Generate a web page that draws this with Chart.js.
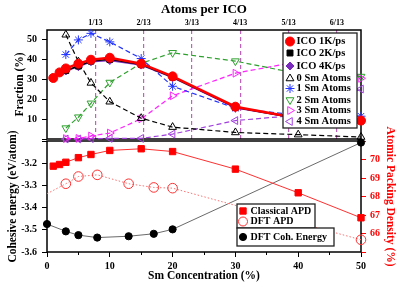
<!DOCTYPE html>
<html>
<head>
<meta charset="utf-8">
<script src="https://cdn.jsdelivr.net/npm/chart.js@4.4.1/dist/chart.umd.min.js"></script>
<style>
  html, body { margin: 0; padding: 0; background: #fff; }
  #wrap { position: relative; width: 402px; height: 284px; }
  #wrap canvas { position: absolute; left: 0; top: 0; }
</style>
</head>
<body>
<div id="wrap">
  <canvas id="bottomChart" width="402" height="284"></canvas>
  <canvas id="topChart" width="402" height="150"></canvas>
</div>
<script>
// ---- top panel: fraction of icosahedra (%) vs Sm concentration (%)
const icoConc = [1, 2, 3, 5, 7, 10, 15, 20, 30, 40, 50];
const ico1K = [30.8, 33.6, 35.6, 38.0, 40.0, 41.0, 38.0, 31.6, 16.3, 10.5, 9.3];
const fastConc = [3, 5, 7, 10, 15, 20, 30, 40, 50];
const ico2K = [34.6, 36.8, 39.3, 40.2, 37.6, 31.2, 16.0, 10.3, 9.1];
const ico4K = [34.3, 36.5, 39.0, 39.6, 37.3, 31.0, 15.8, 10.4, 9.4];

const smConc = [3, 5, 7, 10, 15, 20, 30, 40, 50];
const sm0 = [52.6, 39.0, 28.3, 18.8, 10.5, 6.0, 3.3, 2.2, 1.0];
const sm1 = [42.6, 50.0, 53.3, 49.0, 40.6, 26.6, 15.6, 12.0, 11.5];
const sm2 = [5.5, 11.0, 18.0, 28.5, 38.2, 43.5, 39.3, 33.0, 31.5];
const sm3 = [0.2, 0.3, 1.5, 3.0, 10.2, 21.8, 33.2, 39.0, 30.6];
const sm4 = [0, 0, 0.2, 0.3, 0.3, 2.5, 9.3, 12.0, 25.2];

const atomsPerIco = [1, 2, 3, 4, 5, 6]; // top axis, k/13

// ---- bottom panel: energies and packing density
const apdConc = [1, 2, 3, 5, 7, 10, 15, 20, 30, 40, 50];
const classicalApd = [69.64, 69.73, 69.85, 70.1, 70.27, 70.49, 70.58, 70.43, 69.48, 68.2, 66.85];
const dftConc = [0, 3, 5, 8, 13, 17, 20, 50];
const dftApd = [68.15, 68.69, 69.08, 69.17, 68.69, 68.49, 68.45, 65.66];
const dftCoh = [-3.474, -3.507, -3.524, -3.535, -3.529, -3.518, -3.498, -3.107];

const SERIF = "'Liberation Serif', 'DejaVu Serif', serif";
Chart.defaults.font.family = SERIF;
Chart.defaults.font.weight = 'bold';
Chart.defaults.color = '#000';

function pts(xs, ys) {
    return xs.map((x, i) => ({ x: x, y: ys[i] }));
}

function series(label, xs, ys, color, style, extra) {
    return Object.assign({
        label: label,
        data: pts(xs, ys),
        borderColor: color,
        pointBorderColor: color,
        pointBackgroundColor: color,
        pointStyle: style,
        pointRadius: 4.5,
        pointBorderWidth: 1,
        borderWidth: 1.2,
        tension: 0,
        clip: 8
    }, extra || {});
}

const HOLLOW = 'rgba(255,255,255,0)';
const DASH = [5, 3];

// black frame round the plot area
const plotFrame = {
    id: 'plotFrame',
    beforeDatasetsDraw(chart) {
        const { ctx, chartArea: a } = chart;
        ctx.save();
        ctx.lineWidth = 1.5;
        ctx.strokeStyle = '#000';
        ctx.strokeRect(a.left, a.top, a.right - a.left, a.bottom - a.top);
        ctx.restore();
    }
};

// legend boxes drawn inside the plot
const boxLegend = {
    id: 'boxLegend',
    afterDatasetsDraw(chart, args, opts) {
        const ctx = chart.ctx;
        ctx.save();
        opts.boxes.forEach(b => {
            ctx.fillStyle = '#fff';
            ctx.fillRect(b.x, b.y, b.w, b.h);
            ctx.lineWidth = 1.3;
            ctx.strokeStyle = '#222';
            ctx.strokeRect(b.x, b.y, b.w, b.h);
            b.rows.forEach((dsIndex, i) => {
                const ds = chart.data.datasets[dsIndex];
                const y = b.y + b.rowY[i];
                const r = typeof ds.pointRadius === 'number' ? ds.pointRadius : 4.5;
                ctx.fillStyle = ds.pointBackgroundColor;
                ctx.strokeStyle = ds.pointBorderColor;
                ctx.lineWidth = ds.pointBorderWidth;
                ctx.setLineDash([]);
                Chart.helpers.drawPoint(ctx, {
                    pointStyle: ds.pointStyle,
                    rotation: ds.pointRotation || 0,
                    radius: r,
                    borderWidth: ds.pointBorderWidth
                }, b.x + b.markX, y);
                ctx.fillStyle = '#000';
                ctx.font = 'bold ' + b.fontSize + 'px ' + SERIF;
                ctx.textAlign = 'left';
                ctx.textBaseline = 'middle';
                ctx.fillText(ds.label, b.x + b.textX, y);
            });
        });
        ctx.restore();
    }
};

// ---------------- top chart ----------------
new Chart(document.getElementById('topChart'), {
    type: 'line',
    data: {
        datasets: [
            series('ICO 1K/ps', icoConc, ico1K, '#ff0000', 'circle', { borderWidth: 2.5, pointRadius: 4.5 }),
            series('ICO 2K/ps', fastConc, ico2K, '#000000', 'rect', { borderWidth: 1.5, pointRadius: 4.2 }),
            series('ICO 4K/ps', fastConc, ico4K, '#7b2cbf', 'rectRot', { borderWidth: 1.5, pointRadius: 4 }),
            series('0 Sm Atoms', smConc, sm0, '#000000', 'triangle', { borderDash: DASH, pointBackgroundColor: HOLLOW }),
            series('1 Sm Atoms', smConc, sm1, '#2233ff', 'star', { borderDash: DASH }),
            series('2 Sm Atoms', smConc, sm2, '#2ea02e', 'triangle', { borderDash: DASH, pointRotation: 180, pointBackgroundColor: HOLLOW }),
            series('3 Sm Atoms', smConc, sm3, '#ff22ff', 'triangle', { borderDash: DASH, pointRotation: 90, pointBackgroundColor: HOLLOW }),
            series('4 Sm Atoms', smConc, sm4, '#a040dd', 'triangle', { borderDash: DASH, pointRotation: 270, pointBackgroundColor: HOLLOW })
        ]
    },
    options: {
        responsive: false,
        animation: false,
        layout: { padding: { left: 0, right: 41, top: 0, bottom: 0 } },
        scales: {
            x: {
                type: 'linear', position: 'bottom', min: 0, max: 50,
                ticks: { display: false },
                grid: { display: false },
                border: { display: false },
                afterFit: s => { s.height = 9; }
            },
            xTop: {
                type: 'linear', position: 'top', min: 0, max: 50,
                afterBuildTicks: s => { s.ticks = atomsPerIco.map(k => ({ value: 100 * k / 13 })); },
                ticks: {
                    autoSkip: false, maxRotation: 0, padding: 2,
                    font: { size: 8 },
                    callback: (v, i) => atomsPerIco[i] + '/13'
                },
                grid: { drawTicks: false, color: '#c062bb', lineWidth: 1.2 },
                border: { display: false, dash: [4, 3] },
                title: { display: true, text: 'Atoms per ICO', font: { size: 13 }, padding: { top: 2, bottom: 0 } },
                afterFit: s => { s.height = 30; }
            },
            y: {
                min: 0, max: 55,
                ticks: {
                    stepSize: 5, padding: 5, font: { size: 10 },
                    callback: v => (v % 10 === 0 && v > 0) ? v : ''
                },
                grid: {
                    drawOnChartArea: false, tickLength: 5, tickColor: '#000',
                    tickBorderDash: c => c.tick.value % 10 === 0 ? [] : [0, 2, 3, 100]
                },
                border: { display: false },
                title: { display: true, text: 'Fraction (%)', font: { size: 11.5 }, padding: { top: 13 } },
                afterFit: s => { s.width = 47; }
            }
        },
        plugins: {
            legend: { display: false },
            tooltip: { enabled: false },
            boxLegend: {
                boxes: [{
                    x: 283, y: 33, w: 74, h: 95, markX: 7, textX: 13.5, fontSize: 10.5,
                    rows: [0, 1, 2, 3, 4, 5, 6, 7],
                    rowY: [8.5, 20, 33, 45.5, 55.5, 67, 77.5, 88.5]
                }]
            }
        }
    },
    plugins: [plotFrame, boxLegend]
});

// ---------------- bottom chart ----------------
new Chart(document.getElementById('bottomChart'), {
    type: 'line',
    data: {
        datasets: [
            series('Classical APD', apdConc, classicalApd, '#ff0000', 'rect', {
                yAxisID: 'yR', borderColor: '#ff3030', borderWidth: 1, pointRadius: 4.5
            }),
            series('DFT APD', dftConc, dftApd, '#ff3030', 'circle', {
                yAxisID: 'yR', borderColor: '#ff7070', borderWidth: 1, borderDash: [1.5, 2],
                pointBackgroundColor: HOLLOW,
                pointRadius: c => c.dataIndex === 0 ? 0 : 4.8
            }),
            series('DFT Coh. Energy', dftConc, dftCoh, '#000000', 'circle', {
                yAxisID: 'yL', borderColor: '#444', borderWidth: 0.8, pointRadius: 3.6
            })
        ]
    },
    options: {
        responsive: false,
        animation: false,
        layout: { padding: { left: 0, right: 0, top: 141, bottom: 0 } },
        scales: {
            x: {
                type: 'linear', position: 'bottom', min: 0, max: 50,
                ticks: {
                    stepSize: 5, padding: 3, maxRotation: 0, font: { size: 10 },
                    callback: v => v % 10 === 0 ? v : ''
                },
                grid: {
                    drawOnChartArea: false, tickLength: 5, tickColor: '#000',
                    tickBorderDash: c => c.tick.value % 10 === 0 ? [] : [3, 100]
                },
                border: { display: false },
                title: { display: true, text: 'Sm Concentration (%)', font: { size: 11.5 }, padding: { top: 0, bottom: 1 } },
                afterFit: s => { s.height = 32; }
            },
            yL: {
                position: 'left', min: -3.6, max: -3.1,
                ticks: {
                    stepSize: 0.05, padding: 5, font: { size: 10 },
                    callback: v => (Math.abs(Math.round(v * 100)) % 10 === 0 && v < -3.15) ? v.toFixed(1) : ''
                },
                grid: {
                    drawOnChartArea: false, tickLength: 5, tickColor: '#000',
                    tickBorderDash: c => Math.abs(Math.round(c.tick.value * 100)) % 10 === 0 ? [] : [0, 2, 3, 100]
                },
                border: { display: false },
                title: { display: true, text: 'Cohesive energy (eV/atom)', font: { size: 11.5 }, padding: { top: 6 } },
                afterFit: s => { s.width = 47; }
            },
            yR: {
                position: 'right', min: 65, max: 71,
                ticks: {
                    stepSize: 0.5, padding: 4, color: '#ff0000', font: { size: 10 },
                    callback: v => (Number.isInteger(v) && v > 65 && v < 71) ? v : ''
                },
                grid: {
                    drawOnChartArea: false, tickLength: 5, tickColor: '#ff0000',
                    tickBorderDash: c => Number.isInteger(c.tick.value) ? [] : [3, 100]
                },
                border: { display: false },
                title: { display: true, text: 'Atomic Packing Density (%)', color: '#ff0000', font: { size: 11.5 }, padding: { top: 5 } },
                afterFit: s => { s.width = 41; }
            }
        },
        plugins: {
            legend: { display: false },
            tooltip: { enabled: false },
            boxLegend: {
                boxes: [
                    { x: 237, y: 204, w: 78, h: 24, markX: 6, textX: 13.5, fontSize: 10, rows: [0, 1], rowY: [7, 17.5] },
                    { x: 237, y: 228, w: 97, h: 18, markX: 6, textX: 13.5, fontSize: 10, rows: [2], rowY: [9] }
                ]
            }
        }
    },
    plugins: [plotFrame, boxLegend]
});
</script>
</body>
</html>
